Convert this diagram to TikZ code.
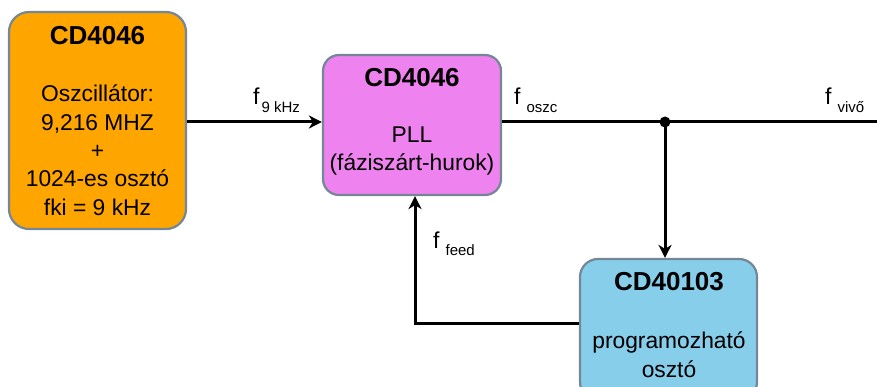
\documentclass[tikz,border=0pt]{standalone}
\usepackage{fontspec}
\setmainfont{Liberation Sans}
\usetikzlibrary{arrows.meta}
\definecolor{orangebox}{HTML}{FFA500}
\definecolor{violetbox}{HTML}{EE82EE}
\definecolor{bluebox}{HTML}{87CEEB}
\definecolor{boxline}{HTML}{748796}
\newcommand{\subtxt}[2]{\hspace{#1}\raisebox{-7.5pt}{\fontsize{15}{18}\selectfont #2}}
\begin{document}
\begin{tikzpicture}[x=1pt,y=-1pt,
  blockbox/.style={draw=boxline, line width=2.2pt, inner sep=0pt},
  titletxt/.style={font=\bfseries\fontsize{26}{30}\selectfont, anchor=base, inner sep=0pt},
  bodytxt/.style={font=\fontsize{22.8}{28}\selectfont, anchor=base, inner sep=0pt},
  labtxt/.style={font=\fontsize{23}{28}\selectfont, anchor=base west, inner sep=0pt},
  wire/.style={line width=3pt, draw=black},
  arr/.style={wire, -{Stealth[length=13pt,width=13pt,inset=4pt]}}
]
\useasboundingbox (0,0) rectangle (877,387);
% boxes
\node[blockbox, fill=orangebox, rounded corners=20pt, minimum width=177pt, minimum height=217pt] (osc) at (97.5,120.5) {};
\node[blockbox, fill=violetbox, rounded corners=16pt, minimum width=178pt, minimum height=140pt] (pll) at (412,125) {};
\node[blockbox, fill=bluebox, rounded corners=18pt, minimum width=177pt, minimum height=141pt] (div) at (668.5,329.5) {};
% texts in boxes
\node[titletxt] (t1) at (97.5,45) {CD4046};
\node[bodytxt] (b11) at (97.5,102) {Oszcillátor:};
\node[bodytxt] (b12) at (97.5,130.3) {9,216 MHZ};
\node[bodytxt] (b13) at (97.5,158.6) {+};
\node[bodytxt] (b14) at (97.5,186.9) {1024-es osztó};
\node[bodytxt] (b15) at (97.5,215.2) {fki = 9 kHz};
\node[titletxt] (t2) at (412,87) {CD4046};
\node[bodytxt] (b21) at (412,143) {PLL};
\node[bodytxt] (b22) at (412,171) {(fáziszárt-hurok)};
\node[titletxt] (t3) at (669,290) {CD40103};
\node[bodytxt] (b31) at (669,348) {programozható};
\node[bodytxt] (b32) at (669,377) {osztó};
% connectors
\coordinate (lineY) at (0,122);
\coordinate (out) at (877,122);
\coordinate (fb) at (415,323);
\node[circle, fill=black, inner sep=0pt, minimum size=11pt] (j) at (665,122) {};
\draw[arr] (osc.east |- lineY) -- (pll.west |- lineY);
\draw[wire] (pll.east |- lineY) -- (out);
\draw[arr] (j.center) -- (j |- div.north);
\draw[arr] (div.west |- fb) -- (fb) -- (fb |- pll.south);
% labels
\node[labtxt] (l1) at (253,105) {f\subtxt{2pt}{9 kHz}};
\node[labtxt] (l2) at (514,105) {f\subtxt{6pt}{oszc}};
\node[labtxt] (l3) at (825,105) {f\subtxt{6pt}{vivő}};
\node[labtxt] (l4) at (433,248) {f\subtxt{6pt}{feed}};
\end{tikzpicture}
\end{document}
